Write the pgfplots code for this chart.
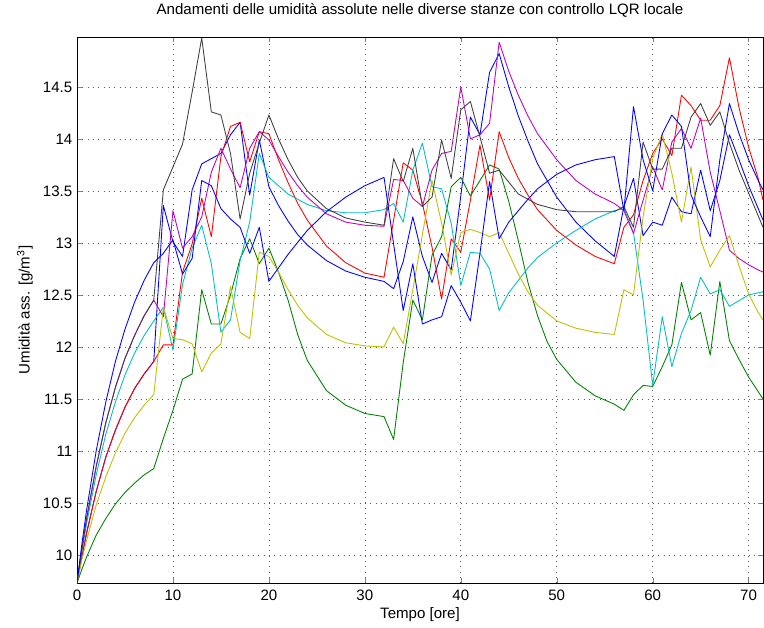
\documentclass[border=0pt]{standalone}
\usepackage{fontspec}
\setmainfont{Liberation Sans}
\usepackage{pgfplots}
\pgfplotsset{compat=1.18}
\usetikzlibrary{calc}
\definecolor{mblue}{rgb}{0,0,1}
\definecolor{mgreen}{rgb}{0,0.5,0}
\definecolor{mred}{rgb}{1,0,0}
\definecolor{mcyan}{rgb}{0,0.75,0.75}
\definecolor{mmag}{rgb}{0.75,0,0.75}
\definecolor{myel}{rgb}{0.75,0.75,0}
\definecolor{mgray}{rgb}{0.25,0.25,0.25}

\begin{document}
\begin{tikzpicture}
\begin{axis}[
  scale only axis,
  width=514.5pt, height=409.5pt,
  xmin=0, xmax=71.5, ymin=9.73, ymax=14.98,
  xtick={0,10,...,70},
  ytick={10,10.5,...,14.5},
  font=\fontsize{11.3}{13.5}\selectfont,
  /pgf/number format/assume math mode=true,
  xticklabel style={yshift=-1.5pt},
  grid=major,
  grid style={black!65, line width=0.45pt, dash pattern=on 0.6pt off 3.4pt},
  axis line style={line width=0.5pt},
  tick align=inside, tick pos=both, major tick length=4pt,
  title={Andamenti delle umidità assolute nelle diverse stanze con controllo LQR locale},
  title style={at={(axis description cs:0.5,1.034)}, anchor=center, yshift=0pt},
  xlabel={Tempo [ore]},
  xlabel style={at={(axis description cs:0.5,-0.0586)}, anchor=center, yshift=0pt},
  ylabel={Umidità ass. [g/m\textsuperscript{3}]},
  ylabel style={at={(axis description cs:-0.076,0.5)}, anchor=center},
  every axis plot/.append style={line width=0.65pt, mark=none, line join=round},
]
% room 1 (blue)
\addplot[mblue] coordinates {
(0,9.73) (0.5,9.98) (1,10.21) (2,10.61) (3,10.94) (4,11.20) (5,11.42) (6,11.60) (7,11.74) (8,11.86)
(9,13.36) (10,13.01) (11,12.87) (12,13.51) (13,13.76) (14,13.81) (15,13.86) (16,14.04) (17,14.16) (18,13.46) (19,13.99) (20,13.54)
(21,13.36) (22,13.21) (23,13.08) (24,12.98) (26,12.83) (28,12.73) (30,12.67) (32,12.63)
(33,12.56) (34,12.82) (35,13.25) (36,12.87) (37,12.62) (38,12.90) (39,12.74) (40,13.45) (41,14.21) (42,14.04) (43,14.64) (44,14.82)
(45,14.50) (46,14.22) (47,13.98) (48,13.76) (50,13.44) (52,13.20) (54,13.02) (56,12.87)
(57,13.35) (58,13.62) (59,13.07) (60,13.20) (61,13.17) (62,13.44) (63,13.30) (64,13.28) (65,13.70) (66,13.31) (67,13.60) (68,14.04)
(69,13.80) (70,13.55) (71,13.33) (71.5,13.22)};
% room 2 (green)
\addplot[mgreen] coordinates {
(0,9.73) (0.5,9.86) (1,9.98) (2,10.19) (3,10.35) (4,10.49) (5,10.60) (6,10.69) (7,10.77) (8,10.83)
(9,11.12) (10,11.39) (11,11.69) (12,11.74) (13,12.55) (14,12.22) (15,12.22) (16,12.50) (17,12.85) (18,13.04) (19,12.80) (20,12.95)
(21,12.72) (22,12.45) (23,12.12) (24,11.87) (26,11.58) (28,11.44) (30,11.36) (32,11.33)
(33,11.11) (34,11.85) (35,12.45) (36,12.26) (37,12.88) (38,13.06) (39,13.54) (40,13.63) (41,13.45) (42,13.60) (43,13.75) (44,13.71)
(45,13.40) (46,13.02) (47,12.62) (48,12.30) (49,12.05) (50,11.88) (52,11.66) (54,11.53) (56,11.45)
(57,11.39) (58,11.54) (59,11.63) (60,11.62) (61,11.81) (62,12.02) (63,12.62) (64,12.26) (65,12.33) (66,11.92) (67,12.63) (68,12.06)
(69,11.88) (70,11.71) (71,11.57) (71.5,11.50)};
% room 3 (red)
\addplot[mred] coordinates {
(0,9.73) (0.5,9.98) (1,10.21) (2,10.61) (3,10.94) (4,11.20) (5,11.42) (6,11.60) (7,11.74) (8,11.86)
(9,12.02) (10,12.02) (11,12.72) (12,12.99) (13,13.43) (14,13.06) (15,13.83) (16,14.12) (17,14.16) (18,13.78) (19,14.07) (20,14.05)
(21,13.80) (22,13.58) (23,13.38) (24,13.22) (26,12.97) (28,12.81) (30,12.71) (32,12.67)
(33,13.22) (34,13.77) (35,13.70) (36,13.38) (37,12.96) (38,12.46) (39,13.04) (40,12.91) (41,13.41) (42,13.94) (43,13.41) (44,14.07)
(45,13.82) (46,13.62) (47,13.46) (48,13.32) (50,13.12) (52,12.98) (54,12.87) (56,12.80)
(57,13.15) (58,13.27) (59,13.60) (60,13.86) (61,14.00) (62,13.84) (63,14.42) (64,14.32) (65,14.18) (66,14.18) (67,14.32) (68,14.78)
(69,14.30) (70,13.92) (71,13.62) (71.5,13.41)};
% room 4 (cyan)
\addplot[mcyan] coordinates {
(0,9.73) (0.5,10.03) (1,10.30) (2,10.77) (3,11.16) (4,11.47) (5,11.73) (6,11.94) (7,12.11) (8,12.25)
(9,12.38) (10,11.97) (11,12.60) (12,12.95) (13,13.17) (14,12.80) (15,12.14) (16,12.26) (17,12.83) (18,13.20) (19,13.86) (20,13.63)
(22,13.47) (24,13.37) (26,13.31) (28,13.29) (30,13.29) (32,13.32)
(33,13.38) (34,13.20) (35,13.70) (36,13.96) (37,13.54) (38,13.52) (39,13.19) (40,12.59) (41,12.91) (42,12.90) (43,12.75) (44,12.35)
(45,12.52) (46,12.64) (47,12.76) (48,12.86) (50,13.00) (52,13.12) (54,13.23) (56,13.31)
(57,13.33) (58,13.10) (59,12.45) (60,11.63) (61,12.29) (62,11.81) (63,12.13) (64,12.35) (65,12.67) (66,12.51) (67,12.55) (68,12.39)
(70,12.50) (71.5,12.53)};
% room 5 (magenta)
\addplot[mmag] coordinates {
(0,9.73) (0.5,10.05) (1,10.35) (2,10.85) (3,11.27) (4,11.61) (5,11.89) (6,12.11) (7,12.30) (8,12.45)
(9,12.29) (10,13.31) (11,12.95) (12,13.06) (13,13.25) (14,13.68) (15,13.91) (16,13.71) (17,13.53) (18,13.91) (19,14.07) (20,13.99)
(21,13.83) (22,13.68) (23,13.55) (24,13.44) (26,13.28) (28,13.20) (30,13.17) (32,13.16)
(33,13.61) (34,13.60) (35,13.43) (36,13.35) (37,13.70) (38,13.86) (39,13.88) (40,14.50) (41,14.00) (42,14.04) (43,14.15) (44,14.93)
(45,14.65) (46,14.42) (47,14.22) (48,14.05) (50,13.80) (52,13.60) (54,13.47) (56,13.38)
(57,13.31) (58,13.09) (59,13.41) (60,13.73) (61,13.51) (62,13.97) (63,14.10) (64,13.91) (65,14.20) (66,13.68) (67,13.31) (68,12.93)
(69,12.85) (70,12.79) (71,12.74) (71.5,12.72)};
% room 6 (yellow)
\addplot[myel] coordinates {
(0,9.73) (0.5,9.95) (1,10.14) (2,10.48) (3,10.75) (4,10.98) (5,11.17) (6,11.32) (7,11.44) (8,11.54)
(9,12.38) (10,12.08) (11,12.07) (12,12.03) (13,11.76) (14,11.94) (15,12.03) (16,12.58) (17,12.14) (18,12.08) (19,12.91) (20,12.87)
(21,12.72) (22,12.55) (23,12.40) (24,12.28) (26,12.12) (28,12.04) (30,12.01) (32,12.00)
(33,12.19) (34,12.03) (35,12.55) (36,13.08) (37,13.60) (38,13.19) (39,12.69) (40,13.10) (41,13.13) (42,13.10) (43,13.06) (44,13.10)
(45,12.90) (46,12.70) (47,12.53) (48,12.40) (50,12.25) (52,12.18) (54,12.14) (56,12.12)
(57,12.55) (58,12.50) (59,13.25) (60,13.81) (61,14.05) (62,13.67) (63,13.20) (64,13.73) (65,13.03) (66,12.77) (67,12.93) (68,13.07)
(69,12.78) (70,12.51) (71,12.33) (71.5,12.26)};
% room 7 (dark grey)
\addplot[mgray] coordinates {
(0,9.73) (0.5,10.05) (1,10.35) (2,10.85) (3,11.27) (4,11.61) (5,11.89) (6,12.11) (7,12.30) (8,12.45)
(9,13.51) (10,13.73) (11,13.95) (12,14.45) (13,14.97) (14,14.26) (15,14.23) (16,13.86) (17,13.23) (18,13.67) (19,13.96) (20,14.23)
(21,14.00) (22,13.80) (23,13.63) (24,13.50) (26,13.33) (28,13.24) (30,13.20) (32,13.17)
(33,13.81) (34,13.59) (35,13.91) (36,13.35) (37,13.44) (38,13.99) (39,13.62) (40,14.28) (41,14.36) (42,14.02) (43,13.67) (44,13.70)
(46,13.47) (48,13.37) (50,13.32) (52,13.30) (54,13.30) (56,13.30)
(57,13.35) (58,13.15) (59,13.97) (60,13.71) (61,13.71) (62,13.91) (63,13.91) (64,14.21) (65,14.34) (66,14.13) (67,14.26) (68,13.96)
(69,13.70) (70,13.48) (71,13.26) (71.5,13.15)};
% room 8 (blue)
\addplot[mblue] coordinates {
(0,9.73) (0.5,10.10) (1,10.43) (2,11.00) (3,11.47) (4,11.86) (5,12.17) (6,12.43) (7,12.64) (8,12.81)
(9,12.90) (10,13.03) (11,12.70) (12,12.85) (13,13.60) (14,13.55) (15,13.33) (16,13.23) (17,13.15) (18,12.90) (19,13.15) (20,12.63)
(22,12.89) (24,13.12) (26,13.30) (28,13.44) (30,13.55) (32,13.63)
(33,12.99) (34,12.35) (35,12.80) (36,12.22) (37,12.26) (38,12.29) (39,12.59) (40,12.43) (41,12.25) (42,12.90) (43,13.59) (44,13.04)
(45,13.20) (46,13.31) (47,13.42) (48,13.52) (50,13.66) (52,13.75) (54,13.80) (56,13.83)
(57,13.31) (58,14.31) (59,13.80) (60,13.50) (61,14.05) (62,14.23) (63,14.12) (64,13.46) (65,13.25) (66,13.06) (67,13.80) (68,14.34)
(69,14.05) (70,13.80) (71,13.60) (71.5,13.51)};
\end{axis}
\pgfresetboundingbox
\path[use as bounding box] ($(current axis.south west)+(-57.75pt,-33pt)$) rectangle ($(current axis.north east)+(0.75pt,27.75pt)$);
\end{tikzpicture}
\end{document}
